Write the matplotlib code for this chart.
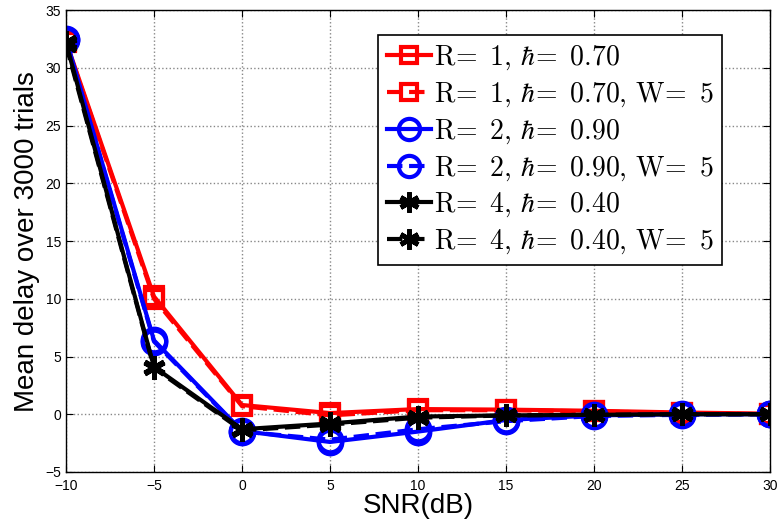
import matplotlib.pyplot as plt

plt.rcParams['mathtext.fontset'] = 'cm'
plt.rcParams['font.family'] = ['Liberation Sans', 'DejaVu Sans']

# SNR values (dB)
snr = [-10, -5, 0, 5, 10, 15, 20, 25, 30]

# mean delay for each setting
r1 = [32.3, 10.2, 0.8, 0.1, 0.45, 0.4, 0.3, 0.15, 0.05]
r1_w5 = [32.2, 10.0, 0.7, -0.1, 0.35, 0.35, 0.25, 0.1, 0.0]
r2 = [32.5, 6.4, -1.45, -2.4, -1.5, -0.5, -0.1, 0.0, 0.0]
r2_w5 = [32.4, 6.3, -1.5, -2.2, -1.3, -0.6, -0.15, -0.05, 0.0]
r4 = [32.2, 4.1, -1.3, -0.8, -0.2, -0.1, -0.05, 0.0, 0.0]
r4_w5 = [32.0, 4.0, -1.4, -0.9, -0.3, -0.1, -0.05, 0.0, 0.0]

labels = [r'$\mathrm{R\!=\ 1,\!\ }\hbar\mathrm{\!=\ 0.70}$',
          r'$\mathrm{R\!=\ 1,\!\ }\hbar\mathrm{\!=\ 0.70,\!\ W\!=\ 5}$',
          r'$\mathrm{R\!=\ 2,\!\ }\hbar\mathrm{\!=\ 0.90}$',
          r'$\mathrm{R\!=\ 2,\!\ }\hbar\mathrm{\!=\ 0.90,\!\ W\!=\ 5}$',
          r'$\mathrm{R\!=\ 4,\!\ }\hbar\mathrm{\!=\ 0.40}$',
          r'$\mathrm{R\!=\ 4,\!\ }\hbar\mathrm{\!=\ 0.40,\!\ W\!=\ 5}$']

fig = plt.figure(figsize=(7.78, 5.29), dpi=100)
ax = fig.add_axes([0.0848, 0.1078, 0.905, 0.873])

asterisk = (6, 2, 0)
ax.plot(snr, r1, '-', color='#ff0000', lw=3, marker='s', ms=13, mfc='none', mew=3, label=labels[0])
ax.plot(snr, r1_w5, '--', color='#ff0000', lw=3, marker='s', ms=13, mfc='none', mew=3, label=labels[1])
ax.plot(snr, r2, '-', color='#0000ff', lw=3, marker='o', ms=17, mfc='none', mew=3, label=labels[2])
ax.plot(snr, r2_w5, '--', color='#0000ff', lw=3, marker='o', ms=17, mfc='none', mew=3, label=labels[3])
ax.plot(snr, r4, '-', color='black', lw=3, marker=asterisk, ms=16, mew=3.5, label=labels[4])
ax.plot(snr, r4_w5, '--', color='black', lw=3, marker=asterisk, ms=16, mew=3.5, label=labels[5])

ax.set_xlim(-10, 30)
ax.set_ylim(-5, 35)
ax.set_xticks(range(-10, 31, 5))
ax.set_yticks(range(-5, 36, 5))
ax.tick_params(direction='in', top=True, right=True, labelsize=10, length=5)
ax.tick_params(axis='x', pad=5)
ax.grid(True, linestyle=':', color='#888888', linewidth=1)
for s in ax.spines.values():
    s.set_linewidth(1)

ax.set_xlabel('SNR(dB)', fontsize=20, labelpad=0)
ax.set_ylabel('Mean delay over 3000 trials', fontsize=20, labelpad=4)

leg = ax.legend(loc='upper right', bbox_to_anchor=(0.932, 0.946), borderaxespad=0,
                fontsize=20, handlelength=1.6, handletextpad=0.1, borderpad=0.3,
                labelspacing=0.3, fancybox=False, framealpha=1,
                edgecolor='black', markerscale=0.9)
leg.get_frame().set_linewidth(1.2)

fig.savefig('out.png', dpi=100)
